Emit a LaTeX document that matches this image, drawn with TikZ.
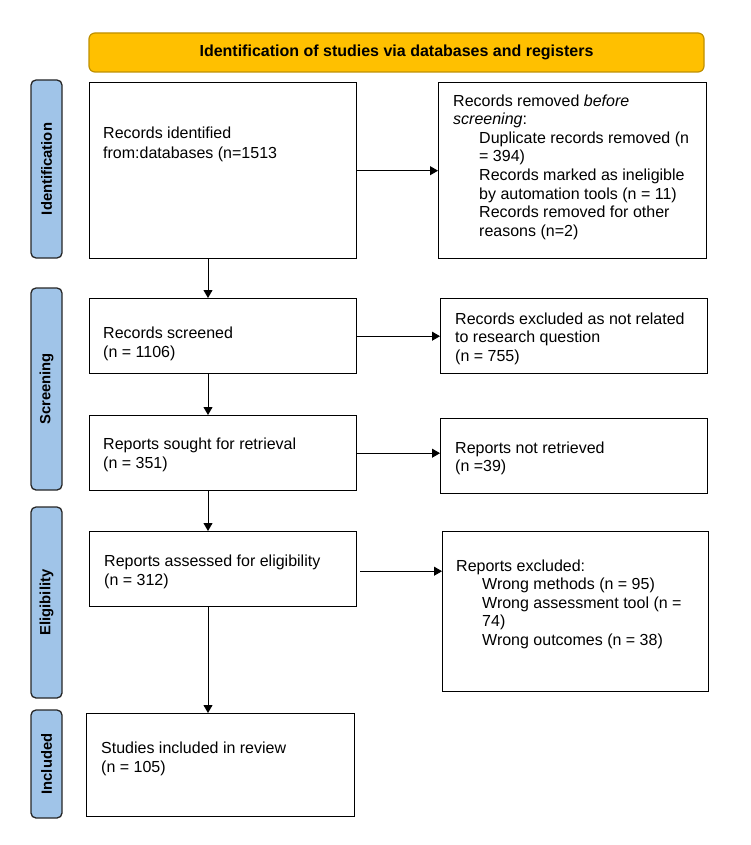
\documentclass[tikz,border=0pt]{standalone}
\usepackage{fontspec}
\setmainfont{Liberation Sans}
\usetikzlibrary{arrows.meta,calc}
\definecolor{bannerfill}{RGB}{255,192,0}
\definecolor{bannerdraw}{RGB}{191,144,0}
\definecolor{phasefill}{RGB}{160,196,232}
\tikzset{
  boxnode/.style={draw=black, line width=1.4pt, fill=white, anchor=north west, inner sep=0pt},
  phase/.style={draw=black!85, line width=1.3pt, fill=phasefill, rounded corners=5pt, rotate=90,
    inner sep=0pt, font=\fontsize{14.8}{17}\selectfont\bfseries},
  lefttxt/.style={anchor=base west, align=left, inner sep=0pt, font=\fontsize{16}{19.3}\selectfont},
  righttxt/.style={anchor=base west, align=left, inner sep=0pt, font=\fontsize{16}{18.6}\selectfont},
  flow/.style={line width=0.9pt, -{Triangle[length=8pt,width=9pt]}}
}
\newcommand{\ind}{\hspace*{26pt}}
\begin{document}
\begin{tikzpicture}[x=1pt,y=-1pt]
\useasboundingbox (0,0) rectangle (750,845);
% banner
\node[draw=bannerdraw, line width=1.2pt, fill=bannerfill, rounded corners=6pt, minimum width=615pt, minimum height=39pt, inner sep=0pt, font=\fontsize{16}{19}\selectfont\bfseries] (banner) at (396.5,52.5) {Identification of studies via databases and registers};
% phase labels
\node[phase, minimum width=178pt, minimum height=31pt] (pid) at (46.5,169) {Identification};
\node[phase, minimum width=202pt, minimum height=31pt] (pscr) at (46.5,389) {Screening};
\node[phase, minimum width=191pt, minimum height=31pt] (pel) at (46.5,602.5) {Eligibility};
\node[phase, minimum width=108pt, minimum height=31pt] (pinc) at (46.5,764) {Included};
% boxes
\node[boxnode, minimum width=267pt, minimum height=176pt] (b1) at (89,82) {};
\node[boxnode, minimum width=268pt, minimum height=176pt] (b2) at (438,82) {};
\node[boxnode, minimum width=267pt, minimum height=75pt] (b3) at (89,298) {};
\node[boxnode, minimum width=267pt, minimum height=75pt] (b4) at (440,298) {};
\node[boxnode, minimum width=267pt, minimum height=75pt] (b5) at (89,415) {};
\node[boxnode, minimum width=267pt, minimum height=75pt] (b6) at (440,418) {};
\node[boxnode, minimum width=267pt, minimum height=75pt] (b7) at (89,531) {};
\node[boxnode, minimum width=266pt, minimum height=160pt] (b8) at (442,531) {};
\node[boxnode, minimum width=268pt, minimum height=103pt] (b9) at (86,713) {};
% texts (anchor base = baseline of last line)
\node[lefttxt] (t1) at (103,158.3) {Records identified\\from:databases (n=1513};
\node[righttxt] (t2) at (453,236.2) {Records removed \textit{before}\\\textit{screening}:\\\ind Duplicate records removed (n\\\ind = 394)\\\ind Records marked as ineligible\\\ind by automation tools (n = 11)\\\ind Records removed for other\\\ind reasons (n=2)};
\node[lefttxt] (t3) at (103,357.3) {Records screened\\(n = 1106)};
\node[righttxt] (t4) at (455,361.2) {Records excluded as not related\\to research question\\(n = 755)};
\node[lefttxt] (t5) at (103,468.3) {Reports sought for retrieval\\(n = 351)};
\node[righttxt] (t6) at (455,471.6) {Reports not retrieved\\(n =39)};
\node[lefttxt] (t7) at (104,585.3) {Reports assessed for eligibility\\(n = 312)};
\node[righttxt] (t8) at (456,645.4) {Reports excluded:\\\ind Wrong methods (n = 95)\\\ind Wrong assessment tool (n =\\\ind 74)\\\ind Wrong outcomes (n = 38)};
\node[lefttxt] (t9) at (101,772.3) {Studies included in review\\(n = 105)};
% connectors
\coordinate (ax) at (208,0);
\draw[flow] (b1.east) -- (b1.east -| b2.west);
\draw[flow] (b3.east) -- (b3.east -| b4.west);
\draw[flow] (b5.east) -- (b5.east -| b6.west);
\draw[flow] ($(b7.east)+(3,2)$) -- ($(b7.east -| b8.west)+(0,2)$);
\draw[flow] (b1.south -| ax) -- (b3.north -| ax);
\draw[flow] (b3.south -| ax) -- (b5.north -| ax);
\draw[flow] (b5.south -| ax) -- (b7.north -| ax);
\draw[flow] (b7.south -| ax) -- (b9.north -| ax);
\end{tikzpicture}
\end{document}
